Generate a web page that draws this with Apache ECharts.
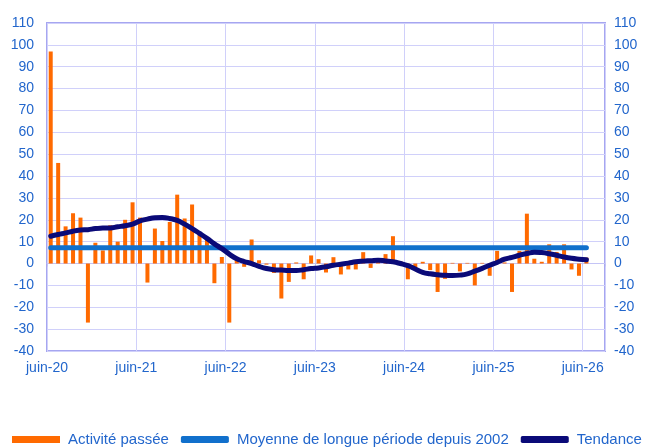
<!DOCTYPE html>
<html>
<head>
<meta charset="utf-8">
<script src="https://cdn.jsdelivr.net/npm/echarts@6/dist/echarts.min.js"></script>
<style>
  html, body { margin: 0; padding: 0; background: #ffffff; }
  #chart { width: 645px; height: 448px; }
</style>
</head>
<body>
<div id="chart"></div>
<script>
// Monthly survey balance, June 2020 to June 2026
const tickLabels = ['juin-20', 'juin-21', 'juin-22', 'juin-23', 'juin-24', 'juin-25', 'juin-26'];

const activite = [
  97, 46, 17, 23, 21, -27, 9.5, 6, 17.5, 10, 20, 28, 21,
  -8.7, 16, 10.3, 19, 31.5, 20.6, 27, 13.4, 11.4, -9, 3, -27, 2.5,
  -1.5, 11, 1.5, -0.5, -4.3, -16, -8.4, 0.5, -7.2, 3.7, 2, -4.1, 2.9,
  -5, -2.7, -2.7, 5.2, -2, 1.5, 4.3, 12.5, 1, -7.2, -2.5, 0.8, -3,
  -13, -7, 0.3, -3.6, 0.3, -10, 0.3, -5.6, 5.8, 0.5, -13, 5.8,
  22.8, 2.2, 0.8, 8.8, 5.3, 8.8, -2.7, -5.6, 2.7
];

const tendance = [
  12.5, 13.3, 14, 14.8, 15.3, 15.5, 16, 16.2, 16.3, 16.8, 17.3, 18, 19.5,
  20.3, 20.9, 21, 20.6, 19.7, 18, 16, 13.8, 11.5, 9, 6.8, 4.3, 2.2,
  0.9, 0, -1.3, -2.3, -2.8, -3, -3.2, -3.2, -2.8, -2.3, -2, -1.5, -0.8,
  -0.3, 0.2, 0.8, 1.1, 1.3, 1.5, 1.2, 0.8, 0, -1, -2.5, -4, -4.7,
  -5.1, -5.4, -5.5, -5.3, -4.7, -3.5, -2.2, -0.8, 0.5, 2, 2.8, 3.8,
  4.6, 5.2, 5, 4.5, 3.8, 3, 2.4, 2, 1.7
];

const moyenne = 7.2;

const labelBlue = '#2266cc';
const gridColor = '#d0d0fa';
const fontFamily = '"Liberation Sans", Arial, sans-serif';

// Month i is drawn at the middle of its slot: i + 0.5
const barData = activite.map((v, i) => [i + 0.5, v]);
const trendData = tendance.map((v, i) => [i + 0.5, v]);
const meanData = [[0.5, moyenne], [activite.length - 0.5, moyenne]];

const chart = echarts.init(document.getElementById('chart'), null, { renderer: 'canvas' });

const yAxisBase = {
  type: 'value',
  min: -40,
  max: 110,
  interval: 10,
  axisLine: { show: false },
  axisTick: { show: false }
};

chart.setOption({
  animation: false,
  backgroundColor: '#ffffff',
  textStyle: { fontFamily: fontFamily },
  grid: {
    left: 47, right: 40, top: 23, bottom: 97,
    show: true,
    borderColor: '#a6a6f0',
    borderWidth: 2,
    backgroundColor: 'transparent'
  },
  legend: {
    left: 12,
    top: 432,
    width: 633,
    padding: 0,
    itemWidth: 48,
    itemHeight: 7,
    itemGap: 12,
    textStyle: { color: labelBlue, fontSize: 15, fontFamily: fontFamily, padding: [0, 0, 0, 3] },
    data: [
      { name: 'Activité passée', icon: 'rect' },
      { name: 'Moyenne de longue période depuis 2002', icon: 'roundRect' },
      { name: 'Tendance', icon: 'roundRect' }
    ]
  },
  xAxis: [
    {
      type: 'value',
      min: 0,
      max: 75,
      interval: 12,
      position: 'bottom',
      axisLine: { show: false },
      axisTick: { show: false },
      splitLine: { show: true, lineStyle: { color: gridColor, width: 1 } },
      axisLabel: {
        color: labelBlue,
        fontSize: 14,
        margin: 10,
        showMaxLabel: false,
        formatter: function (v) {
          const k = Math.round(v / 12);
          return (Math.abs(v - k * 12) < 1e-6 && tickLabels[k]) ? tickLabels[k] : '';
        }
      }
    },
    {
      // zero line with small yearly ticks
      type: 'value',
      min: 0,
      max: 75,
      interval: 12,
      position: 'bottom',
      axisLine: { show: true, onZero: true, lineStyle: { color: '#c4c4f6', width: 1 } },
      axisTick: { show: true, length: 3, lineStyle: { color: '#c4c4f6' } },
      axisLabel: { show: false },
      splitLine: { show: false }
    }
  ],
  yAxis: [
    Object.assign({}, yAxisBase, {
      position: 'left',
      splitLine: { show: true, lineStyle: { color: gridColor, width: 1 } },
      axisLabel: { color: labelBlue, fontSize: 14, margin: 13 }
    }),
    Object.assign({}, yAxisBase, {
      position: 'right',
      splitLine: { show: false },
      axisLabel: { color: labelBlue, fontSize: 14, margin: 9 }
    })
  ],
  series: [
    {
      name: 'Activité passée',
      type: 'bar',
      xAxisIndex: 0,
      yAxisIndex: 0,
      barWidth: 4,
      itemStyle: { color: '#ff6a00' },
      data: barData
    },
    {
      name: 'Moyenne de longue période depuis 2002',
      type: 'line',
      xAxisIndex: 0,
      yAxisIndex: 0,
      showSymbol: false,
      symbol: 'none',
      itemStyle: { color: '#1170cc' },
      lineStyle: { color: '#1170cc', width: 5, cap: 'round' },
      data: meanData
    },
    {
      name: 'Tendance',
      type: 'line',
      xAxisIndex: 0,
      yAxisIndex: 0,
      smooth: true,
      showSymbol: false,
      symbol: 'none',
      itemStyle: { color: '#0a0a78' },
      lineStyle: { color: '#0a0a78', width: 5, cap: 'round', join: 'round' },
      data: trendData
    }
  ]
});
</script>
</body>
</html>
